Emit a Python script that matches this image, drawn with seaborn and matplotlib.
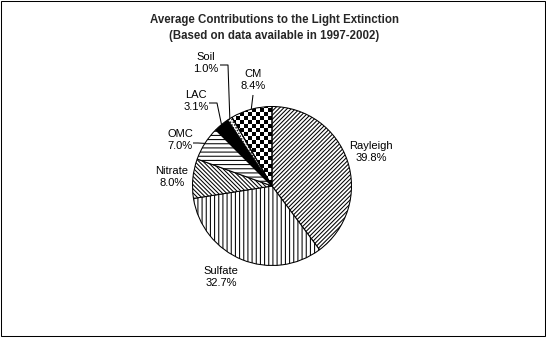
import numpy as np
import matplotlib
matplotlib.use("Agg")
import matplotlib.pyplot as plt
import seaborn as sns
from matplotlib.patches import Rectangle

# ---- data ----
categories = ["Rayleigh", "Sulfate", "Nitrate", "OMC", "LAC", "Soil", "CM"]
shares = [39.8, 32.7, 8.0, 7.0, 3.1, 1.0, 8.4]
title_lines = ["Average Contributions to the Light Extinction",
               "(Based on data available in 1997-2002)"]

# ---- style / layout ----
hatches = ["////////", "||||", "\\\\\\\\\\\\\\\\", "----", None, "......", None]
faces = ["white", "white", "white", "white", "black", "white", "none"]
W, H = 546, 338
CX, CY, R = 272, 186, 79.5          # pie centre / radius in pixels (y down)
label_pos = [(371, 152), (221, 277), (172, 177), (180, 140),
             (196, 101), (206, 63), (253, 80)]
leader = [None, None, None, (193, 143, 198), (209, 103, 217),
          (220, 65, 228), (253, 95, 253)]

sns.set_theme(style="white")
plt.rcParams["font.family"] = ["Liberation Sans", "DejaVu Sans"]
plt.rcParams["hatch.linewidth"] = 0.75
plt.rcParams["hatch.color"] = "black"

def P(x, y):
    return x, H - y

fig = plt.figure(figsize=(W / 100, H / 100), dpi=100)
fig.patch.set_facecolor("white")
ax = fig.add_axes([0, 0, 1, 1])

wedges, _ = ax.pie(shares, startangle=90, counterclock=False,
                   center=P(CX, CY), radius=R,
                   wedgeprops=dict(edgecolor="black", linewidth=0.75))
for w, h, f in zip(wedges, hatches, faces):
    w.set_facecolor(f)
    if h:
        w.set_hatch(h)
    w.set_edgecolor("black")

# checkerboard for CM
yy, xx = np.mgrid[0:H, 0:W]
checker = ((xx // 4 + yy // 4) % 2).astype(float)
im = ax.imshow(checker, cmap="gray", extent=(0, W, 0, H), origin="upper",
               interpolation="nearest", zorder=0.5, vmin=0, vmax=1)
im.set_clip_path(wedges[-1])

ax.set_xlim(0, W)
ax.set_ylim(0, H)
ax.set_aspect("equal")
ax.axis("off")

# labels
for name, val, (lx, ly) in zip(categories, shares, label_pos):
    ax.text(*P(lx, ly), f"{name}\n{val:.1f}%", ha="center", va="center",
            fontsize=8, linespacing=1.36, color="black")

# leader lines
for w, ld in zip(wedges, leader):
    if ld is None:
        continue
    mid = np.deg2rad((w.theta1 + w.theta2) / 2)
    ex = w.center[0] + w.r * np.cos(mid)
    ey = w.center[1] + w.r * np.sin(mid)
    sx, sy, kx = ld
    x0, y0 = P(sx, sy)
    x1, y1 = P(kx, sy)
    ax.plot([x0, x1, ex], [y0, y1, ey], color="black", lw=0.75,
            solid_capstyle="butt")

fig.text(274 / W, 1 - 28 / H, "\n".join(title_lines), ha="center",
         va="center", fontsize=8.3, fontweight="bold", linespacing=1.4)

fig.patches.append(Rectangle((0.5 / W, 2.5 / H), 544 / W, 335 / H,
                             transform=fig.transFigure, fill=False,
                             edgecolor="black", linewidth=0.75))

fig.savefig("out.png", dpi=100, facecolor="white")
